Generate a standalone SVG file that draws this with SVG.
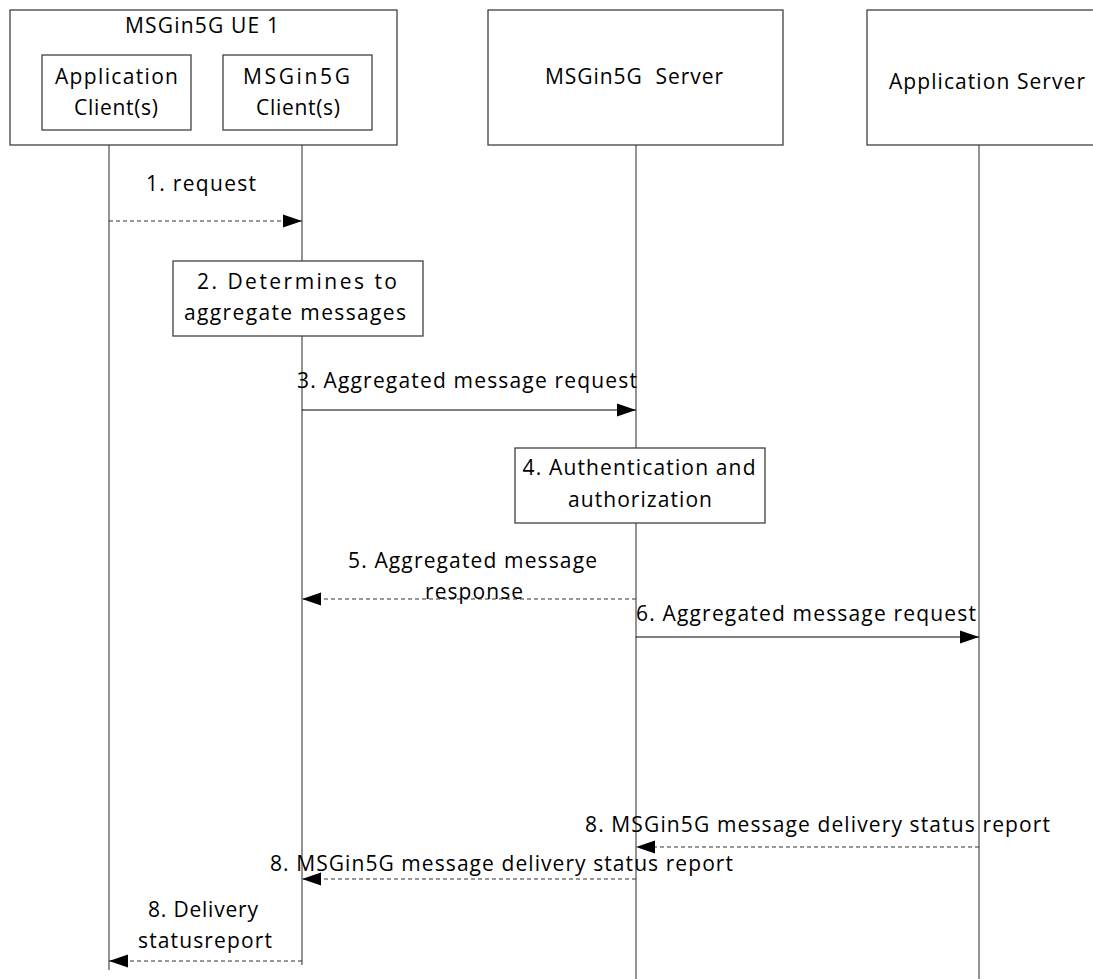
<svg xmlns="http://www.w3.org/2000/svg" width="1093" height="979" viewBox="0 0 1093 979">
<style>
  .box{fill:#fff;stroke:#404040;stroke-width:1.3}
  .life{stroke:#5a5a5a;stroke-width:1.3;fill:none}
  .msg{stroke:#000;stroke-width:1;fill:none}
  .dash{stroke-dasharray:4 3;stroke:#333}
  text{font-family:"Open Sans","Liberation Sans",sans-serif;font-size:21px;fill:#000;text-anchor:middle}
</style>
<defs>
  <marker id="ah" markerUnits="userSpaceOnUse" markerWidth="20" markerHeight="14" refX="19" refY="7" orient="auto">
    <path d="M0,0.5 L19,7 L0,13.5 Z" fill="#000"/>
  </marker>
</defs>
<rect width="1093" height="979" fill="#fff"/>

<g id="lifelines">
  <line class="life" x1="109" y1="130" x2="109" y2="970"/>
  <line class="life" x1="302" y1="130" x2="302" y2="965"/>
  <line class="life" x1="636" y1="145" x2="636" y2="979"/>
  <line class="life" x1="979" y1="145" x2="979" y2="979"/>
</g>

<g id="ue1">
  <rect class="box" x="10" y="10" width="387" height="135"/>
  <text x="202" y="33" textLength="154" lengthAdjust="spacing">MSGin5G UE 1</text>
</g>
<g id="app-client">
  <rect class="box" x="42" y="55" width="149" height="75"/>
  <text x="116.5" y="84" textLength="123" lengthAdjust="spacing">Application</text>
  <text x="116" y="115" textLength="84" lengthAdjust="spacing">Client(s)</text>
</g>
<g id="msgin5g-client">
  <rect class="box" x="223" y="55" width="149" height="75"/>
  <text x="296.5" y="84" textLength="107" lengthAdjust="spacing">MSGin5G</text>
  <text x="298" y="115" textLength="84" lengthAdjust="spacing">Client(s)</text>
</g>
<g id="msgin5g-server">
  <rect class="box" x="488" y="10" width="295" height="135"/>
  <text x="634" y="84" textLength="178" lengthAdjust="spacing" xml:space="preserve">MSGin5G  Server</text>
</g>
<g id="application-server">
  <rect class="box" x="867" y="10" width="230" height="135"/>
  <text x="987" y="89" textLength="196" lengthAdjust="spacing">Application Server</text>
</g>

<g id="step2">
  <rect class="box" x="173" y="261" width="250" height="75"/>
  <text x="297" y="289" textLength="200" lengthAdjust="spacing">2. Determines to</text>
  <text x="295" y="320" textLength="222" lengthAdjust="spacing">aggregate messages</text>
</g>
<g id="step4">
  <rect class="box" x="515" y="448" width="250" height="75"/>
  <text x="639" y="475" textLength="233" lengthAdjust="spacing">4. Authentication and</text>
  <text x="640" y="507" textLength="144" lengthAdjust="spacing">authorization</text>
</g>

<g id="connectors">
  <line class="msg dash" x1="109" y1="221" x2="302" y2="221" marker-end="url(#ah)"/>
  <line class="msg" x1="302" y1="410" x2="636" y2="410" marker-end="url(#ah)"/>
  <line class="msg dash" x1="636" y1="599" x2="302" y2="599" marker-end="url(#ah)"/>
  <line class="msg" x1="636" y1="637" x2="979" y2="637" marker-end="url(#ah)"/>
  <line class="msg dash" x1="979" y1="847" x2="636" y2="847" marker-end="url(#ah)"/>
  <line class="msg dash" x1="636" y1="879" x2="302" y2="879" marker-end="url(#ah)"/>
  <line class="msg dash" x1="302" y1="961" x2="109" y2="961" marker-end="url(#ah)"/>
</g>

<g id="labels">
  <text x="201" y="191" textLength="110" lengthAdjust="spacing">1. request</text>
  <text x="467" y="388" textLength="340" lengthAdjust="spacing">3. Aggregated message request</text>
  <text x="472.5" y="568" textLength="249" lengthAdjust="spacing">5. Aggregated message</text>
  <text x="474" y="599" textLength="98" lengthAdjust="spacing">response</text>
  <text x="806" y="621" textLength="340" lengthAdjust="spacing">6. Aggregated message request</text>
  <text x="817.5" y="832" textLength="465" lengthAdjust="spacing">8. MSGin5G message delivery status report</text>
  <text x="501.5" y="871" textLength="463" lengthAdjust="spacing">8. MSGin5G message delivery status report</text>
  <text x="203" y="917" textLength="110" lengthAdjust="spacing">8. Delivery</text>
  <text x="205" y="948" textLength="134" lengthAdjust="spacing">statusreport</text>
</g>
</svg>
